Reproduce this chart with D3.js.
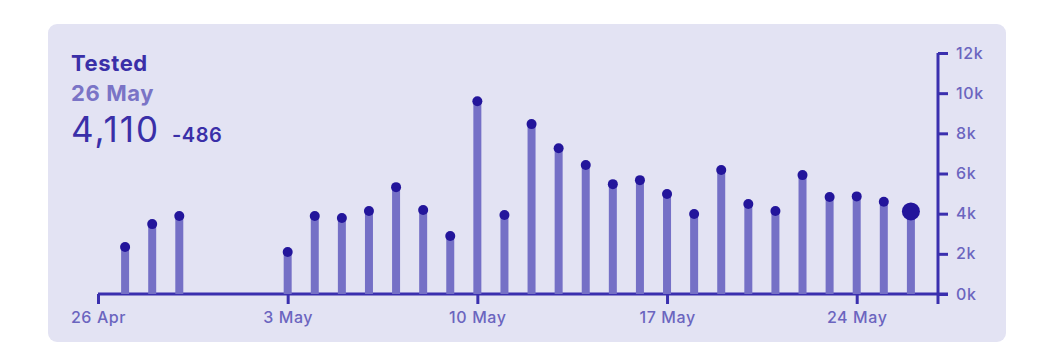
<!DOCTYPE html>
<html><head><meta charset="utf-8">
<script src="https://cdn.jsdelivr.net/npm/d3@7"></script>
<style>
html,body{margin:0;padding:0;background:#fff;}
svg{display:block;font-family:Inter, "Noto Sans", sans-serif;}
</style></head>
<body><svg id="chart" width="1041" height="362"></svg>
<script>
const dates = ["2020-04-27","2020-04-28","2020-04-29","2020-05-03","2020-05-04","2020-05-05","2020-05-06","2020-05-07","2020-05-08","2020-05-09","2020-05-10","2020-05-11","2020-05-12","2020-05-13","2020-05-14","2020-05-15","2020-05-16","2020-05-17","2020-05-18","2020-05-19","2020-05-20","2020-05-21","2020-05-22","2020-05-23","2020-05-24","2020-05-25","2020-05-26"];
const tested = [2340,3480,3880,2090,3880,3780,4130,5320,4180,2890,9600,3930,8460,7260,6420,5470,5670,4980,3980,6170,4480,4130,5920,4830,4860,4596,4110];
const xTickDates = ["2020-04-26","2020-05-03","2020-05-10","2020-05-17","2020-05-24"];
const yTicks = [0,2000,4000,6000,8000,10000,12000];
const titleText = "Tested";
const dateText = "26 May";
const valueText = "4,110";
const deltaText = "-486";

const parse = d3.utcParse("%Y-%m-%d");
const svg = d3.select("#chart");
const fmtDate = d3.utcFormat("%-d %b");

svg.append("rect").attr("x",48).attr("y",24).attr("width",958).attr("height",318)
  .attr("rx",9).attr("fill","#e3e3f3");

const x = d3.scaleUtc().domain([parse("2020-04-26"), parse("2020-05-27")]).range([98, 938]);
const y = d3.scaleLinear().domain([0, 12000]).range([294, 53]);

const axisColor = "#3a2fae";
const labelColor = "#6b65bf";

// bars
const g = svg.append("g");
g.selectAll("line.bar").data(tested).join("line")
  .attr("x1",(d,i)=>x(parse(dates[i]))).attr("x2",(d,i)=>x(parse(dates[i])))
  .attr("y1",y(0)).attr("y2",d=>y(d))
  .attr("stroke","#7570c6").attr("stroke-width",8);

// x axis
const xAxis = d3.axisBottom(x).tickValues(xTickDates.map(parse)).tickFormat(fmtDate)
  .tickSize(10).tickPadding(8);
const xg = svg.append("g").attr("transform",`translate(0,${y(0)})`).call(xAxis);
xg.select(".domain").attr("d",`M${x.range()[0]},0H${x.range()[1]+10}`).attr("stroke",axisColor).attr("stroke-width",3);
xg.selectAll(".tick line").attr("stroke",axisColor).attr("stroke-width",3);
xg.selectAll(".tick text").attr("fill",labelColor).attr("font-size",16).attr("font-weight",500)
  .attr("letter-spacing",0.6).style("font-family","Inter, sans-serif");

// y axis on right
const yAxis = d3.axisRight(y).tickValues(yTicks).tickFormat(d=>(d/1000)+"k").tickSize(10).tickPadding(8);
const yg = svg.append("g").attr("transform",`translate(${x.range()[1]},0)`).call(yAxis);
yg.select(".domain").attr("d",`M0,${y(12000)}V${y(0)+10}`).attr("stroke",axisColor).attr("stroke-width",3);
yg.selectAll(".tick line").attr("stroke",axisColor).attr("stroke-width",3);
yg.selectAll(".tick text").attr("fill",labelColor).attr("font-size",16).attr("font-weight",500)
  .attr("letter-spacing",0.6).style("font-family","Inter, sans-serif");

// dots
const n = tested.length;
g.selectAll("circle.dot").data(tested).join("circle")
  .attr("cx",(d,i)=>x(parse(dates[i]))).attr("cy",d=>y(d))
  .attr("r",(d,i)=> i===n-1 ? 9 : 5)
  .attr("fill","#23159b");
g.raise();

// header text
svg.append("text").attr("x",71).attr("y",71).text(titleText)
  .attr("fill","#3a2fa8").attr("font-size",22).attr("font-weight",700).attr("letter-spacing",0.6);
svg.append("text").attr("x",71).attr("y",101).text(dateText)
  .attr("fill","#7a74c6").attr("font-size",22).attr("font-weight",700).attr("letter-spacing",0.6);
const vt = svg.append("text").attr("x",71).attr("y",142).attr("fill","#3a2fa8");
vt.append("tspan").text(valueText).attr("font-size",35).attr("font-weight",400).attr("letter-spacing",2);
vt.append("tspan").attr("x",172).text(deltaText).attr("font-size",20).attr("font-weight",600).attr("letter-spacing",0.5);
</script></body></html>
